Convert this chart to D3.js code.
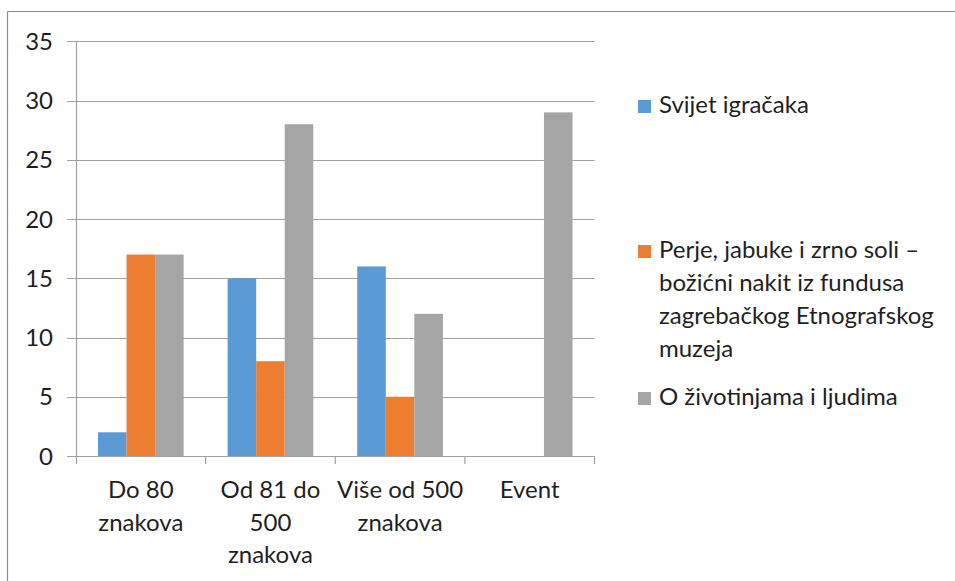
<!DOCTYPE html>
<html>
<head>
<meta charset="utf-8">
<script src="https://cdn.jsdelivr.net/npm/d3@7"></script>
<style>
  html, body { margin: 0; padding: 0; background: #fff; }
  svg text { font-family: Lato, "Open Sans", sans-serif; fill: #1f1f1f; }
</style>
</head>
<body>
<svg id="chart" width="955" height="581"></svg>
<script>
// Category groups (multi-line labels) and the three series
const categories = ["Do 80 znakova", "Od 81 do 500 znakova", "Više od 500 znakova", "Event"];
const categoryLines = [["Do 80", "znakova"], ["Od 81 do", "500", "znakova"], ["Više od 500", "znakova"], ["Event"]];
const seriesNames = ["Svijet igračaka", "Perje, jabuke i zrno soli – božićni nakit iz fundusa zagrebačkog Etnografskog muzeja", "O životinjama i ljudima"];
const legendLines = [["Svijet igračaka"], ["Perje, jabuke i zrno soli –", "božićni nakit iz fundusa", "zagrebačkog Etnografskog", "muzeja"], ["O životinjama i ljudima"]];
const svijetIgracaka = [2, 15, 16, 0];
const perjeJabuke = [17, 8, 5, 0];
const oZivotinjama = [17, 28, 12, 29];
const seriesValues = [svijetIgracaka, perjeJabuke, oZivotinjama];
const colors = ["#5b9bd5", "#ed7d31", "#a5a5a5"];
const yTicks = [0, 5, 10, 15, 20, 25, 30, 35];

const svg = d3.select("#chart");
const fontSize = 24;

// chart frame
svg.append("line").attr("x1", 7.5).attr("x2", 955).attr("y1", 11.5).attr("y2", 11.5)
  .attr("stroke", "#8c8c8c").attr("stroke-width", 1.2);
svg.append("line").attr("x1", 7.5).attr("x2", 7.5).attr("y1", 11.5).attr("y2", 581)
  .attr("stroke", "#8c8c8c").attr("stroke-width", 1.2);

const plot = { left: 76, right: 594.5, top: 41.3, bottom: 456 };

const x0 = d3.scaleBand().domain(categories).range([plot.left, plot.right]).paddingInner(0).paddingOuter(0);
const x1 = d3.scaleBand().domain(d3.range(seriesNames.length))
  .range([0, x0.bandwidth()]).paddingOuter(0.77).paddingInner(0);
const y = d3.scaleLinear().domain([0, 35]).range([plot.bottom, plot.top]);

// gridlines with short outside ticks
svg.append("g").selectAll("line").data(yTicks).join("line")
  .attr("x1", plot.left - 9).attr("x2", plot.right)
  .attr("y1", d => Math.round(y(d)) + 0.5).attr("y2", d => Math.round(y(d)) + 0.5)
  .attr("stroke", "#a0a0a0").attr("stroke-width", 1.2);

// bars
const groups = svg.append("g").selectAll("g").data(categories).join("g")
  .attr("transform", d => `translate(${x0(d)},0)`);
groups.selectAll("rect")
  .data((c, i) => seriesValues.map((vals, s) => ({ s, v: vals[i] })))
  .join("rect")
  .attr("x", d => x1(d.s))
  .attr("width", x1.bandwidth())
  .attr("y", d => y(d.v))
  .attr("height", d => y(0) - y(d.v))
  .attr("fill", d => colors[d.s]);

// y axis line
svg.append("line").attr("x1", plot.left + 0.5).attr("x2", plot.left + 0.5)
  .attr("y1", plot.top).attr("y2", plot.bottom + 8)
  .attr("stroke", "#a0a0a0").attr("stroke-width", 1.2);

// x axis line and category boundary ticks
svg.append("line").attr("x1", plot.left).attr("x2", plot.right)
  .attr("y1", Math.round(y(0)) + 0.5).attr("y2", Math.round(y(0)) + 0.5)
  .attr("stroke", "#a0a0a0").attr("stroke-width", 1.2);
const boundaries = categories.map(c => x0(c) + x0.bandwidth());
svg.append("g").selectAll("line").data(boundaries).join("line")
  .attr("x1", d => d).attr("x2", d => d)
  .attr("y1", plot.bottom).attr("y2", plot.bottom + 8)
  .attr("stroke", "#a0a0a0").attr("stroke-width", 1.2);

// y tick labels
svg.append("g").selectAll("text").data(yTicks).join("text")
  .attr("x", 53).attr("y", d => y(d) + 8.5)
  .attr("text-anchor", "end").attr("font-size", fontSize)
  .text(d => d);

// category labels
svg.append("g").selectAll("text").data(categories).join("text")
  .attr("text-anchor", "middle").attr("font-size", fontSize)
  .attr("transform", d => `translate(${x0(d) + x0.bandwidth() / 2},498)`)
  .each(function (d, i) {
    d3.select(this).selectAll("tspan").data(categoryLines[i]).join("tspan")
      .attr("x", 0).attr("y", (t, j) => j * 32.5).text(t => t);
  });

// legend
const legendTop = [113, 258, 405];
const legend = svg.append("g").selectAll("g").data(seriesNames).join("g")
  .attr("transform", (d, i) => `translate(638,${legendTop[i]})`);
legend.append("rect").attr("x", 0).attr("y", -13).attr("width", 13).attr("height", 13)
  .attr("fill", (d, i) => colors[i]);
legend.append("text").attr("font-size", fontSize)
  .each(function (d, i) {
    d3.select(this).selectAll("tspan").data(legendLines[i]).join("tspan")
      .attr("x", 21).attr("y", (t, j) => j * 33).text(t => t);
  });
</script>
</body>
</html>
